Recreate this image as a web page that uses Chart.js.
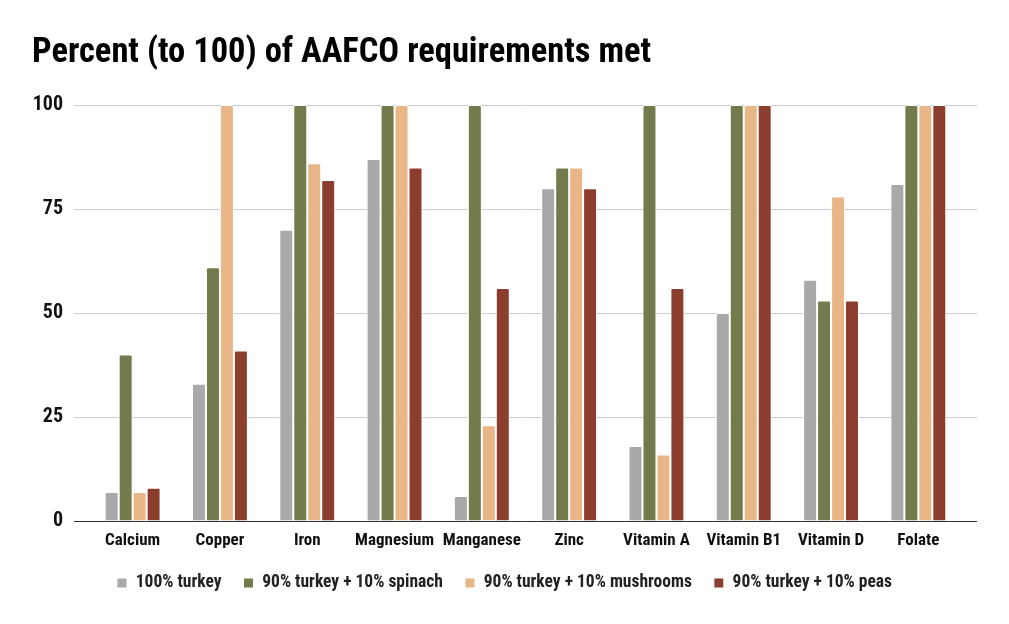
<!DOCTYPE html>
<html>
<head>
<meta charset="utf-8">
<script src="https://cdn.jsdelivr.net/npm/chart.js@4"></script>
<style>
  html, body { margin: 0; padding: 0; background: #fff; }
  #wrap { width: 1009px; height: 624px; }
</style>
</head>
<body>
<div id="wrap"><canvas id="myChart"></canvas></div>
<script>
const categories = ['Calcium', 'Copper', 'Iron', 'Magnesium', 'Manganese', 'Zinc', 'Vitamin A', 'Vitamin B1', 'Vitamin D', 'Folate'];
const seriesNames = ['100% turkey', '90% turkey + 10% spinach', '90% turkey + 10% mushrooms', '90% turkey + 10% peas'];
const turkey    = [7, 33, 70, 87, 6, 80, 18, 50, 58, 81];
const spinach   = [40, 61, 100, 100, 100, 85, 100, 100, 53, 100];
const mushrooms = [7, 100, 86, 100, 23, 85, 16, 100, 78, 100];
const peas      = [8, 41, 82, 85, 56, 80, 56, 100, 53, 100];
const yTicks = [0, 25, 50, 75, 100];

const colors = ['#a8a9ab', '#737b4c', '#e8b687', '#8c3e2e'];
const narrow = "'Roboto Condensed', Roboto, sans-serif";

const allValues = [turkey, spinach, mushrooms, peas];

// darker baseline at 0, light grey elsewhere
const gridColor = (ctx) => (ctx.tick && ctx.tick.value === 0 ? '#333333' : '#cccccc');

const ctx = document.getElementById('myChart').getContext('2d');
new Chart(ctx, {
  type: 'bar',
  data: {
    labels: categories,
    datasets: seriesNames.map((name, i) => ({
      label: name,
      data: allValues[i],
      backgroundColor: colors[i],
      borderColor: '#ffffff',
      borderWidth: 1,
      borderRadius: 2,
      categoryPercentage: 0.64,
      barPercentage: 1
    }))
  },
  options: {
    responsive: true,
    maintainAspectRatio: false,
    animation: false,
    layout: { padding: { left: 32, right: 32, top: 0, bottom: 22.25 } },
    plugins: {
      title: {
        display: true,
        text: 'Percent (to 100) of AAFCO requirements met',
        align: 'start',
        color: '#000',
        font: { family: narrow, size: 34.5, weight: 'bold' },
        padding: { top: 33, bottom: 30.6 }
      },
      legend: {
        position: 'bottom',
        labels: {
          color: '#222',
          font: { family: narrow, size: 17.5, weight: 'bold' },
          boxWidth: 10,
          boxHeight: 10,
          padding: 22
        }
      },
      tooltip: { enabled: false }
    },
    scales: {
      x: {
        grid: { display: false },
        border: { display: false },
        afterFit: (scale) => { scale.height = 31.25; },
        ticks: {
          color: '#111',
          padding: 2,
          autoSkip: false,
          maxRotation: 0,
          font: { family: narrow, size: 17, weight: 'bold' }
        }
      },
      y: {
        min: 0,
        max: 100,
        afterBuildTicks: (scale) => { scale.ticks = yTicks.map(v => ({ value: v })); },
        afterFit: (scale) => { scale.width = 57; },
        border: { display: false },
        grid: { color: gridColor, tickLength: 15, drawTicks: true },
        ticks: {
          color: '#111',
          padding: 11,
          font: { family: narrow, size: 20, weight: 'bold' }
        }
      },
      yRight: {
        position: 'right',
        min: 0,
        max: 100,
        afterBuildTicks: (scale) => { scale.ticks = yTicks.map(v => ({ value: v })); },
        afterFit: (scale) => { scale.width = 15; },
        border: { display: false },
        grid: { color: gridColor, tickLength: 15, drawTicks: true, drawOnChartArea: false },
        ticks: { display: false }
      }
    }
  }
});
</script>
</body>
</html>
